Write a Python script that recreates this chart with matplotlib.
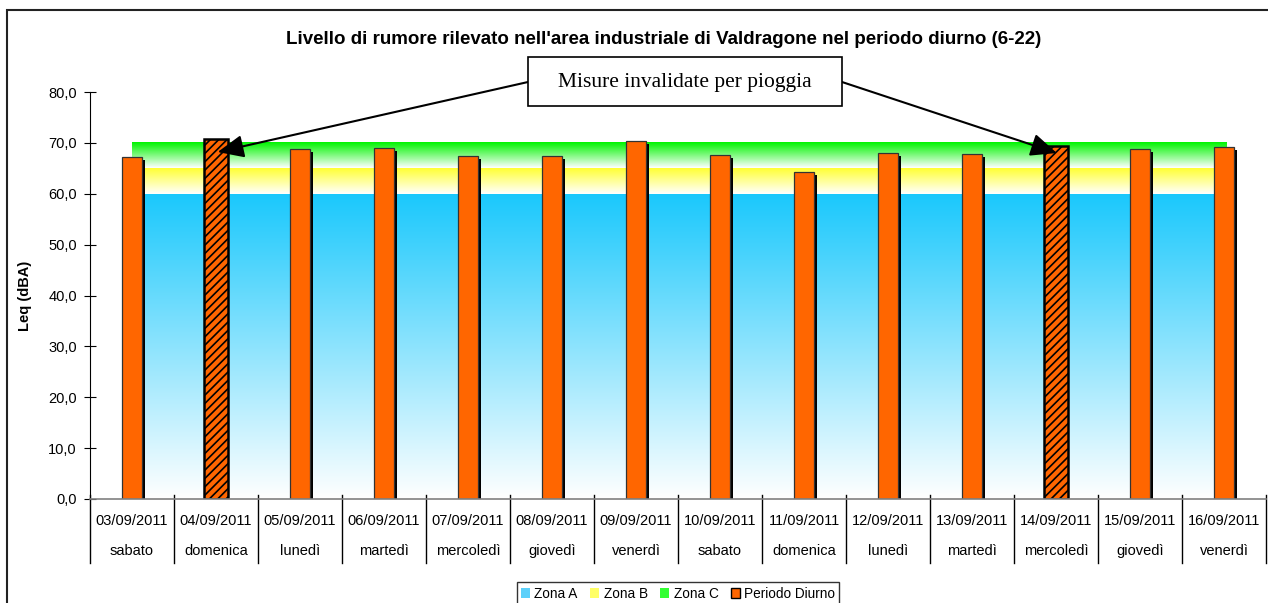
import numpy as np
import matplotlib.pyplot as plt
from matplotlib.colors import LinearSegmentedColormap
from matplotlib.patches import Patch, Rectangle
from matplotlib.ticker import FuncFormatter
import matplotlib.transforms as mtransforms

plt.rcParams['font.family'] = ['Liberation Sans', 'DejaVu Sans']
plt.rcParams['hatch.linewidth'] = 1.2

dates = ['03/09/2011', '04/09/2011', '05/09/2011', '06/09/2011', '07/09/2011',
         '08/09/2011', '09/09/2011', '10/09/2011', '11/09/2011', '12/09/2011',
         '13/09/2011', '14/09/2011', '15/09/2011', '16/09/2011']
weekdays = ['sabato', 'domenica', 'lunedì', 'martedì', 'mercoledì', 'giovedì', 'venerdì',
            'sabato', 'domenica', 'lunedì', 'martedì', 'mercoledì', 'giovedì', 'venerdì']
leq = [67.2, 70.7, 68.8, 69.0, 67.4, 67.4, 70.3, 67.6, 64.2, 68.0, 67.8, 69.4, 68.8, 69.2]
invalid = [False, True, False, False, False, False, False,
           False, False, False, False, True, False, False]
zone_a = 60.0
zone_b = 65.0
zone_c = 70.0

W, H = 1268, 603
fig = plt.figure(figsize=(W / 100, H / 100), dpi=100)
ax = fig.add_axes([90 / W, 1 - 499 / H, (1266 - 90) / W, (499 - 92) / H])

x = np.arange(len(dates))

# gradient bands (zone limits)
grad = np.linspace(0, 1, 256).reshape(-1, 1)
cm_a = LinearSegmentedColormap.from_list('a', ['white', '#1ac8fc'])
cm_b = LinearSegmentedColormap.from_list('b', ['white', '#ffff33'])
cm_c = LinearSegmentedColormap.from_list('c', ['white', '#00f400'])
for lo, hi, cm in [(0, zone_a, cm_a), (zone_a, zone_b, cm_b), (zone_b, zone_c, cm_c)]:
    ax.imshow(grad, cmap=cm, origin='lower', aspect='auto',
              extent=[x[0], x[-1] + 0.03, lo, hi], zorder=1, interpolation='bilinear')
ax.set_xlim(-0.5, len(dates) - 0.5)
ax.set_ylim(0, 80)

# bars
for i, v in enumerate(leq):
    if invalid[i]:
        ax.bar(x[i], v, width=0.29, color='#ff6600', edgecolor='black', linewidth=1.8,
               hatch='////', zorder=4)
    else:
        ax.bar(x[i] + 0.04, v - 0.6, width=0.238, color='black', zorder=3)
        ax.bar(x[i], v, width=0.238, color='#ff6600', edgecolor='#333333', linewidth=0.9, zorder=4)

# axes styling
for s in ['top', 'right']:
    ax.spines[s].set_visible(False)
ax.spines['left'].set_color('black')
ax.spines['bottom'].set_color('#808080')
ax.spines['bottom'].set_linewidth(1.2)
ax.spines['bottom'].set_zorder(5)
ax.set_yticks(np.arange(0, 81, 10))
ax.yaxis.set_major_formatter(FuncFormatter(lambda v, p: f'{v:.1f}'.replace('.', ',')))
ax.tick_params(axis='y', direction='inout', length=9, labelsize=10.5, pad=5)
ax.set_xticks([])
ax.set_ylabel('Leq (dBA)', fontsize=10.5, fontweight='bold', labelpad=12)

# category labels and separators
trans = mtransforms.blended_transform_factory(ax.transData, ax.transAxes)
for i in range(len(dates)):
    ax.text(x[i], -22 / 407, dates[i], transform=trans, ha='center', va='center', fontsize=10.5)
    ax.text(x[i], -52 / 407, weekdays[i], transform=trans, ha='center', va='center', fontsize=10.5)
for b in np.arange(len(dates) + 1) - 0.5:
    ax.plot([b, b], [4 / 407, -64 / 407], transform=trans, color='black', lw=1, clip_on=False)

# title
fig.text(664 / W, 1 - 40 / H,
         "Livello di rumore rilevato nell'area industriale di Valdragone nel periodo diurno (6-22)",
         ha='center', va='center', fontsize=13.5, fontweight='bold')

# annotation box
fig.patches.append(Rectangle((528 / W, 1 - 106 / H), 314 / W, 49 / H, transform=fig.transFigure,
                             facecolor='white', edgecolor='black', lw=1.2, zorder=10))
fig.text(685 / W, 1 - 82 / H, 'Misure invalidate per pioggia', ha='center', va='center',
         fontsize=15.5, family=['Liberation Serif', 'DejaVu Serif'], zorder=11)
for tx, tip in [(528, (1.02, 68.2)), (842, (11.01, 68.0))]:
    ax.annotate('', xy=tip, xycoords='data', xytext=(tx / W, 1 - 82 / H),
                textcoords='figure fraction',
                arrowprops=dict(arrowstyle='-|>,head_length=0.8,head_width=0.35', color='black',
                                lw=1.5, shrinkA=0, shrinkB=0, mutation_scale=20), zorder=12)

# legend
handles = [Patch(facecolor='#5cd0fa', edgecolor='none'),
           Patch(facecolor='#ffff66', edgecolor='none'),
           Patch(facecolor='#33ff33', edgecolor='none'),
           Patch(facecolor='#ff6600', edgecolor='black')]
leg = fig.legend(handles, ['Zona A', 'Zona B', 'Zona C', 'Periodo Diurno'], loc='lower center',
                 bbox_to_anchor=(678 / W, -0.014), ncol=4, fontsize=9.8, frameon=True,
                 fancybox=False, handlelength=0.7, handleheight=0.7, handletextpad=0.3,
                 columnspacing=0.9, borderpad=0.3)
leg.get_frame().set_edgecolor('black')
leg.get_frame().set_linewidth(1)

# outer chart border
fig.patches.append(Rectangle((7 / W, -0.05), 1.1, 1 - 10 / H + 0.05, transform=fig.transFigure,
                             facecolor='none', edgecolor='#222222', lw=1.5))

fig.savefig('out.png', dpi=100)
